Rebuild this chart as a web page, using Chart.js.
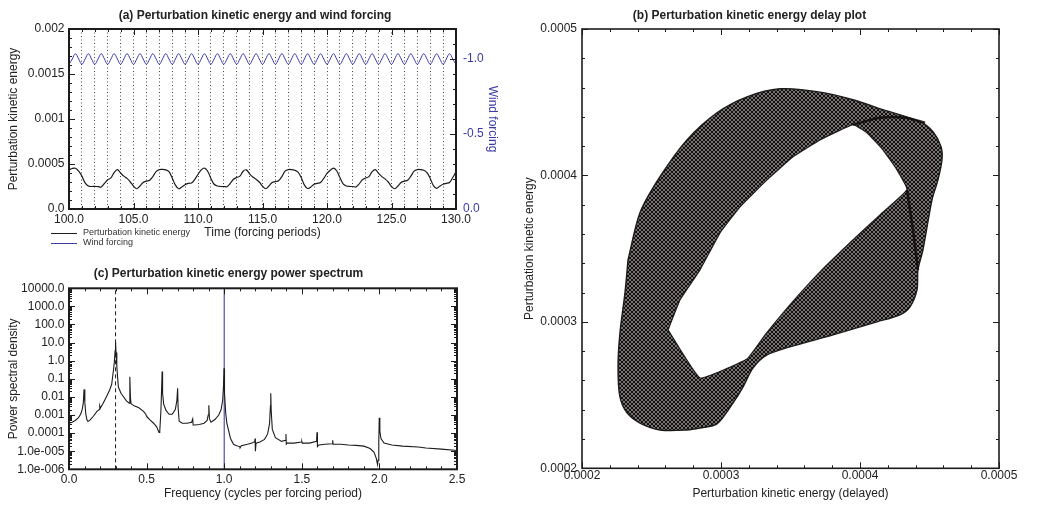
<!DOCTYPE html>
<html>
<head>
<meta charset="utf-8">
<script src="https://cdn.jsdelivr.net/npm/chart.js@4.4.1/dist/chart.umd.min.js"></script>
<style>
  html, body { margin: 0; padding: 0; background: #fff; }
  body { width: 1052px; height: 506px; position: relative; overflow: hidden; }
  canvas { position: absolute; }
  #energyChart { left: 0; top: 0; }
  #delayChart { left: 500px; top: 0; }
  #spectrumChart { left: 0; top: 252px; }
</style>
</head>
<body>
<canvas id="energyChart" width="510" height="252"></canvas>
<canvas id="delayChart" width="552" height="506"></canvas>
<canvas id="spectrumChart" width="470" height="254"></canvas>
<script>
// ---- (a) time series, sampled every quarter forcing period from t = 100
const timeStart = 100;
const timeStep = 0.25;
const pkeValues = [
  4.35e-4, 4.50e-4, 4.52e-4, 4.20e-4, 3.65e-4, 2.90e-4, 2.55e-4, 2.50e-4,
  2.52e-4, 2.48e-4, 2.45e-4, 2.85e-4, 3.25e-4, 3.45e-4, 4.05e-4, 4.38e-4,
  4.00e-4, 3.65e-4, 3.40e-4, 3.00e-4, 2.55e-4, 2.25e-4, 2.55e-4, 2.95e-4,
  3.10e-4, 3.20e-4, 3.60e-4, 4.15e-4, 4.38e-4, 4.40e-4, 4.35e-4, 4.15e-4,
  3.45e-4, 2.65e-4, 2.25e-4, 2.45e-4, 2.70e-4, 2.85e-4, 2.90e-4, 3.30e-4,
  3.85e-4, 4.35e-4, 4.55e-4, 4.20e-4, 3.40e-4, 2.75e-4, 2.55e-4, 2.50e-4,
  2.50e-4, 2.48e-4, 2.85e-4, 3.30e-4, 3.50e-4, 3.65e-4, 4.20e-4, 4.35e-4,
  3.90e-4, 3.55e-4, 3.30e-4, 3.00e-4, 2.55e-4, 2.25e-4, 2.55e-4, 2.95e-4,
  3.05e-4, 3.15e-4, 3.60e-4, 4.20e-4, 4.38e-4, 4.38e-4, 4.30e-4, 4.10e-4,
  3.50e-4, 2.65e-4, 2.28e-4, 2.45e-4, 2.75e-4, 2.85e-4, 2.95e-4, 3.40e-4,
  3.95e-4, 4.30e-4, 4.55e-4, 4.25e-4, 3.50e-4, 2.80e-4, 2.55e-4, 2.50e-4,
  2.50e-4, 2.45e-4, 2.80e-4, 3.25e-4, 3.45e-4, 3.60e-4, 4.15e-4, 4.38e-4,
  3.95e-4, 3.60e-4, 3.35e-4, 3.00e-4, 2.50e-4, 2.25e-4, 2.55e-4, 2.95e-4,
  3.10e-4, 3.20e-4, 3.65e-4, 4.20e-4, 4.38e-4, 4.38e-4, 4.30e-4, 4.05e-4,
  3.40e-4, 2.60e-4, 2.30e-4, 2.55e-4, 2.75e-4, 2.85e-4, 2.95e-4, 3.50e-4,
  4.15e-4
];
const windValues = [
  -0.965, -1.0, -1.035, -1.0, -0.965, -1.0, -1.035, -1.0, -0.965, -1.0, -1.035, -1.0,
  -0.965, -1.0, -1.035, -1.0, -0.965, -1.0, -1.035, -1.0, -0.965, -1.0, -1.035, -1.0,
  -0.965, -1.0, -1.035, -1.0, -0.965, -1.0, -1.035, -1.0, -0.965, -1.0, -1.035, -1.0,
  -0.965, -1.0, -1.035, -1.0, -0.965, -1.0, -1.035, -1.0, -0.965, -1.0, -1.035, -1.0,
  -0.965, -1.0, -1.035, -1.0, -0.965, -1.0, -1.035, -1.0, -0.965, -1.0, -1.035, -1.0,
  -0.965, -1.0, -1.035, -1.0, -0.965, -1.0, -1.035, -1.0, -0.965, -1.0, -1.035, -1.0,
  -0.965, -1.0, -1.035, -1.0, -0.965, -1.0, -1.035, -1.0, -0.965, -1.0, -1.035, -1.0,
  -0.965, -1.0, -1.035, -1.0, -0.965, -1.0, -1.035, -1.0, -0.965, -1.0, -1.035, -1.0,
  -0.965, -1.0, -1.035, -1.0, -0.965, -1.0, -1.035, -1.0, -0.965, -1.0, -1.035, -1.0,
  -0.965, -1.0, -1.035, -1.0, -0.965, -1.0, -1.035, -1.0, -0.965, -1.0, -1.035, -1.0,
  -0.965
];
const timeTicks = [100, 105, 110, 115, 120, 125, 130];
const timeTickLabels = ["100.0", "105.0", "110.0", "115.0", "120.0", "125.0", "130.0"];
const pkeTicks = [0, 0.0005, 0.001, 0.0015, 0.002];
const pkeTickLabels = ["0.0", "0.0005", "0.001", "0.0015", "0.002"];
const windTicks = [0, -0.5, -1.0];
const windTickLabels = ["0.0", "-0.5", "-1.0"];

// ---- (b) delay plot: outer edge and inner hole of the dense trajectory band
const bandOuterX = [
  2.331e-4, 2.417e-4, 2.561e-4, 2.755e-4, 2.971e-4, 3.187e-4, 3.424e-4, 3.691e-4, 3.950e-4, 4.165e-4,
  4.432e-4, 4.525e-4, 4.583e-4, 4.590e-4, 4.561e-4, 4.518e-4, 4.453e-4, 4.417e-4, 4.410e-4, 4.360e-4,
  4.288e-4, 4.122e-4, 3.806e-4, 3.496e-4, 3.331e-4, 3.230e-4, 3.158e-4, 3.086e-4, 2.971e-4, 2.849e-4,
  2.755e-4, 2.561e-4, 2.417e-4, 2.324e-4, 2.273e-4, 2.259e-4, 2.273e-4, 2.309e-4, 2.331e-4
];
const bandOuterY = [
  3.423e-4, 3.745e-4, 3.991e-4, 4.243e-4, 4.428e-4, 4.537e-4, 4.592e-4, 4.572e-4, 4.517e-4, 4.449e-4,
  4.367e-4, 4.298e-4, 4.196e-4, 4.107e-4, 3.970e-4, 3.833e-4, 3.492e-4, 3.355e-4, 3.218e-4, 3.102e-4,
  3.048e-4, 3.000e-4, 2.911e-4, 2.829e-4, 2.774e-4, 2.685e-4, 2.555e-4, 2.446e-4, 2.303e-4, 2.275e-4,
  2.262e-4, 2.262e-4, 2.309e-4, 2.378e-4, 2.487e-4, 2.692e-4, 2.925e-4, 3.198e-4, 3.423e-4
];
const bandInnerX = [
  2.619e-4, 2.705e-4, 2.849e-4, 2.993e-4, 3.137e-4, 3.331e-4, 3.518e-4, 3.712e-4, 3.950e-4, 4.050e-4,
  4.165e-4, 4.266e-4, 4.338e-4, 4.144e-4, 3.928e-4, 3.712e-4, 3.496e-4, 3.317e-4, 3.187e-4, 2.849e-4,
  2.619e-4
];
const bandInnerY = [
  2.945e-4, 3.150e-4, 3.355e-4, 3.608e-4, 3.786e-4, 3.970e-4, 4.127e-4, 4.243e-4, 4.346e-4, 4.291e-4,
  4.175e-4, 4.038e-4, 3.902e-4, 3.731e-4, 3.540e-4, 3.341e-4, 3.116e-4, 2.911e-4, 2.747e-4, 2.617e-4,
  2.945e-4
];
// darker folds where the band overlaps itself (null separates the two folds)
const foldX = [3.950e-4, 4.144e-4, 4.324e-4, 4.468e-4, null, 4.338e-4, 4.381e-4, 4.417e-4];
const foldY = [4.346e-4, 4.394e-4, 4.394e-4, 4.360e-4, null, 3.902e-4, 3.628e-4, 3.355e-4];
const delayTicks = [0.0002, 0.0003, 0.0004, 0.0005];
const delayTickLabels = ["0.0002", "0.0003", "0.0004", "0.0005"];

// ---- (c) power spectrum
const freqs = [
  0.000, 0.020, 0.040, 0.060, 0.075, 0.085, 0.092, 0.097, 0.102, 0.108,
  0.115, 0.122, 0.135, 0.157, 0.180, 0.195, 0.198, 0.202, 0.220, 0.243,
  0.262, 0.275, 0.286, 0.292, 0.297, 0.300, 0.303, 0.308, 0.318, 0.335,
  0.350, 0.370, 0.388, 0.391, 0.393, 0.396, 0.400, 0.420, 0.450, 0.480,
  0.495, 0.498, 0.502, 0.520, 0.545, 0.565, 0.580, 0.585, 0.592, 0.597,
  0.600, 0.603, 0.610, 0.625, 0.645, 0.665, 0.685, 0.695, 0.700, 0.703,
  0.710, 0.730, 0.760, 0.790, 0.797, 0.800, 0.810, 0.840, 0.870, 0.890,
  0.897, 0.901, 0.905, 0.915, 0.940, 0.965, 0.980, 0.990, 0.995, 0.999,
  1.002, 1.010, 1.017, 1.040, 1.060, 1.080, 1.100, 1.102, 1.110, 1.150,
  1.180, 1.197, 1.199, 1.201, 1.205, 1.230, 1.260, 1.280, 1.292, 1.298,
  1.300, 1.303, 1.310, 1.330, 1.370, 1.395, 1.398, 1.400, 1.405, 1.450,
  1.497, 1.500, 1.503, 1.550, 1.595, 1.598, 1.601, 1.610, 1.650, 1.697,
  1.699, 1.702, 1.750, 1.800, 1.850, 1.900, 1.940, 1.965, 1.980, 1.988,
  1.992, 1.996, 1.999, 2.003, 2.010, 2.030, 2.080, 2.150, 2.250, 2.300,
  2.400, 2.500
];
const psd = [
  3.5e-4, 4.0e-4, 5.0e-4, 7.0e-4, 1.1e-3, 2.0e-3, 4.5e-3, 2.6e-2, 5.0e-3, 1.2e-3,
  5.6e-4, 4.4e-4, 5.2e-4, 8.5e-4, 1.6e-3, 2.0e-3, 3.2e-3, 2.4e-3, 4.5e-3, 1.1e-2,
  2.4e-2, 5.0e-2, 2.8e-1, 8.0e-1, 3.5, 10.5, 2.8, 5.0e-1, 3.5e-2, 1.6e-2,
  1.05e-2, 6.0e-3, 4.5e-3, 8.0e-3, 1.3e-1, 9.0e-3, 4.2e-3, 3.2e-3, 2.5e-3, 1.6e-3,
  1.1e-3, 9.0e-4, 8.0e-4, 5.6e-4, 3.5e-4, 2.2e-4, 1.1e-4, 1.3e-4, 1.6e-3, 3.2e-2,
  2.5e-1, 1.6e-2, 4.0e-3, 1.8e-3, 1.1e-3, 1.1e-3, 2.0e-3, 6.3e-3, 3.0e-2, 2.5e-3,
  4.5e-4, 3.5e-4, 3.5e-4, 4.0e-4, 6.0e-4, 2.8e-4, 2.8e-4, 3.0e-4, 3.5e-4, 5.0e-4,
  1.0e-3, 3.5e-3, 6.3e-4, 4.0e-4, 5.6e-4, 1.0e-3, 2.0e-3, 6.3e-3, 3.2e-2, 3.8e-1,
  1.6e-2, 1.2e-3, 3.6e-4, 5.2e-5, 2.4e-5, 2.0e-5, 1.8e-5, 1.5e-5, 2.0e-5, 2.4e-5,
  2.8e-5, 3.5e-5, 5.0e-5, 1.0e-5, 2.8e-5, 3.2e-5, 4.5e-5, 9.0e-5, 3.2e-4, 3.2e-3,
  1.6e-2, 1.6e-3, 1.6e-4, 5.6e-5, 3.5e-5, 4.0e-5, 9.0e-5, 2.5e-5, 2.8e-5, 2.8e-5,
  3.2e-5, 3.5e-5, 2.8e-5, 2.8e-5, 3.5e-5, 1.1e-4, 1.8e-5, 2.2e-5, 2.4e-5, 2.6e-5,
  4.0e-5, 2.4e-5, 2.4e-5, 2.2e-5, 2.1e-5, 1.9e-5, 1.4e-5, 9.0e-6, 4.0e-6, 1.8e-6,
  3.2e-6, 3.2e-5, 7.0e-4, 1.3e-4, 5.0e-5, 2.8e-5, 2.2e-5, 1.9e-5, 1.7e-5, 1.5e-5,
  1.3e-5, 1.1e-5
];
const psdTicks = [1e-6, 1e-5, 1e-4, 1e-3, 1e-2, 1e-1, 1, 10, 100, 1000, 10000];
const psdTickLabels = ["1.0e-006", "1.0e-005", "0.0001", "0.001", "0.01", "0.1", "1.0", "10.0", "100.0", "1000.0", "10000.0"];
const freqTicks = [0, 0.5, 1.0, 1.5, 2.0, 2.5];
const freqTickLabels = ["0.0", "0.5", "1.0", "1.5", "2.0", "2.5"];
const dominantFreq = 0.3;
const forcingFreq = 1.0;

// ---- styling
Chart.defaults.font.family = "\"Liberation Sans\", Arial, Helvetica, sans-serif";
Chart.defaults.font.size = 12;
Chart.defaults.color = "#222";

const ink = "#1c1c1c";
const windBlue = "#3a3aa6";

function steps(from, to, step) {
  const out = [];
  for (let v = from; v <= to + step / 1000; v += step) out.push(+v.toFixed(8));
  return out;
}

// inward tick marks on the frame, plus the box itself
const frameTicks = {
  id: "frameTicks",
  afterDatasetsDraw(chart, args, opts) {
    const { ctx, chartArea: a } = chart;
    ctx.save();
    ctx.strokeStyle = ink;
    ctx.lineWidth = 1;
    for (const m of opts.marks || []) {
      const sc = chart.scales[m.scale];
      for (const v of m.values) {
        const p = Math.round(sc.getPixelForValue(v)) + 0.5;
        ctx.beginPath();
        for (const side of m.sides) {
          if (side === "bottom") { ctx.moveTo(p, a.bottom); ctx.lineTo(p, a.bottom - m.len); }
          if (side === "top") { ctx.moveTo(p, a.top); ctx.lineTo(p, a.top + m.len); }
          if (side === "left") { ctx.moveTo(a.left, p); ctx.lineTo(a.left + m.len, p); }
          if (side === "right") { ctx.moveTo(a.right, p); ctx.lineTo(a.right - m.len, p); }
        }
        ctx.stroke();
      }
    }
    ctx.lineWidth = opts.width || 1.5;
    ctx.strokeRect(a.left, a.top, a.right - a.left, a.bottom - a.top);
    ctx.restore();
  }
};

// small legend under panel (a)
const cornerLegend = {
  id: "cornerLegend",
  afterDraw(chart, args, opts) {
    const { ctx } = chart;
    ctx.save();
    ctx.font = "9px \"Liberation Sans\", Arial, sans-serif";
    ctx.textBaseline = "middle";
    chart.data.datasets.forEach((ds, i) => {
      const y = opts.y + i * opts.gap;
      ctx.strokeStyle = ds.borderColor;
      ctx.lineWidth = 1;
      ctx.beginPath();
      ctx.moveTo(opts.x, y + 0.5);
      ctx.lineTo(opts.x + 26, y + 0.5);
      ctx.stroke();
      ctx.fillStyle = "#333";
      ctx.fillText(ds.label, opts.x + 32, y);
    });
    ctx.restore();
  }
};

// fine crossing-line texture standing in for the dense trajectory mesh
function meshPattern() {
  const c = document.createElement("canvas");
  c.width = 4;
  c.height = 4;
  const g = c.getContext("2d");
  g.fillStyle = "#767272";
  g.fillRect(0, 0, 4, 4);
  g.strokeStyle = "#141010";
  g.lineWidth = 1;
  g.beginPath();
  g.moveTo(0, 0); g.lineTo(4, 4);
  g.moveTo(4, 0); g.lineTo(0, 4);
  g.stroke();
  return g.createPattern(c, "repeat");
}

const noGrid = { display: false, drawTicks: false };
const noBorder = { display: false };

// ---- (a)
const times = pkeValues.map((_, i) => timeStart + i * timeStep);

new Chart(document.getElementById("energyChart"), {
  type: "line",
  data: {
    datasets: [{
      label: "Perturbation kinetic energy",
      data: times.map((t, i) => ({ x: t, y: pkeValues[i] })),
      borderColor: ink,
      borderWidth: 1.2,
      pointRadius: 0,
      tension: 0.35,
      yAxisID: "y"
    }, {
      label: "Wind forcing",
      data: times.map((t, i) => ({ x: t, y: windValues[i] })),
      borderColor: windBlue,
      borderWidth: 1,
      pointRadius: 0,
      tension: 0.4,
      yAxisID: "y2"
    }]
  },
  options: {
    responsive: false,
    animation: false,
    events: [],
    layout: { padding: 0 },
    plugins: {
      legend: { display: false },
      tooltip: { enabled: false },
      title: {
        display: true,
        text: "(a) Perturbation kinetic energy and wind forcing",
        color: "#222",
        font: { size: 12, weight: "bold" },
        padding: { top: 8, bottom: 6.6 }
      },
      frameTicks: {
        width: 2,
        marks: [
          { scale: "x", values: timeTicks, len: 6, sides: ["bottom", "top"] },
          { scale: "x", values: steps(100, 130, 1), len: 3, sides: ["bottom", "top"] },
          { scale: "y", values: pkeTicks, len: 6, sides: ["left"] },
          { scale: "y", values: steps(0, 0.002, 0.0001), len: 3, sides: ["left"] },
          { scale: "y2", values: windTicks, len: 6, sides: ["right"] },
          { scale: "y2", values: steps(-1.2, 0, 0.1), len: 3, sides: ["right"] }
        ]
      },
      cornerLegend: { x: 51, y: 233, gap: 10 }
    },
    scales: {
      x: {
        type: "linear",
        min: 100,
        max: 130,
        afterBuildTicks: s => { s.ticks = steps(100, 130, 1).map(value => ({ value })); },
        ticks: {
          autoSkip: false, maxRotation: 0, minRotation: 0, padding: 3.5,
          callback: v => { const i = timeTicks.indexOf(v); return i < 0 ? "" : timeTickLabels[i]; }
        },
        grid: { color: "#444", lineWidth: 1, drawTicks: false },
        border: { display: false, dash: [1, 2.5] },
        title: { display: true, text: "Time (forcing periods)", padding: { top: 0, bottom: 12 } },
        afterFit: s => { s.height = 43; }
      },
      y: {
        min: 0,
        max: 0.002,
        afterBuildTicks: s => { s.ticks = pkeTicks.map(value => ({ value })); },
        ticks: { autoSkip: false, padding: 4.5, callback: (v, i) => pkeTickLabels[i] },
        grid: noGrid,
        border: noBorder,
        title: { display: true, text: "Perturbation kinetic energy", padding: { top: 6, bottom: 0 } },
        afterFit: s => { s.width = 69; }
      },
      y2: {
        position: "right",
        min: -1.2,
        max: 0,
        reverse: true,
        afterBuildTicks: s => { s.ticks = windTicks.map(value => ({ value })); },
        ticks: { autoSkip: false, padding: 7, color: windBlue, callback: (v, i) => windTickLabels[i] },
        grid: noGrid,
        border: noBorder,
        title: { display: true, text: "Wind forcing", color: windBlue, padding: { top: 10, bottom: 0 } },
        afterFit: s => { s.width = 54; }
      }
    }
  },
  plugins: [frameTicks, cornerLegend]
});

// ---- (b)
new Chart(document.getElementById("delayChart"), {
  type: "scatter",
  data: {
    datasets: [{
      label: "folds",
      data: foldX.map((x, i) => ({ x: x === null ? NaN : x, y: foldY[i] === null ? NaN : foldY[i] })),
      showLine: true,
      spanGaps: false,
      borderColor: "rgba(16, 12, 12, 0.85)",
      borderWidth: 2.5,
      pointRadius: 0,
      tension: 0.3
    }, {
      label: "hole",
      data: bandInnerX.map((x, i) => ({ x, y: bandInnerY[i] })),
      showLine: true,
      fill: "shape",
      backgroundColor: "#ffffff",
      borderColor: ink,
      borderWidth: 1.2,
      pointRadius: 0,
      tension: 0.1
    }, {
      label: "band",
      data: bandOuterX.map((x, i) => ({ x, y: bandOuterY[i] })),
      showLine: true,
      fill: "shape",
      backgroundColor: meshPattern(),
      borderColor: ink,
      borderWidth: 1.4,
      pointRadius: 0,
      tension: 0.3
    }]
  },
  options: {
    responsive: false,
    animation: false,
    events: [],
    layout: { padding: { left: 0, right: 53, top: 0, bottom: 0 } },
    plugins: {
      legend: { display: false },
      tooltip: { enabled: false },
      title: {
        display: true,
        text: "(b) Perturbation kinetic energy delay plot",
        color: "#222",
        font: { size: 12, weight: "bold" },
        padding: { top: 8, bottom: 6.6 }
      },
      frameTicks: {
        width: 1.6,
        marks: [
          { scale: "x", values: delayTicks, len: 6, sides: ["bottom", "top"] },
          { scale: "x", values: steps(0.0002, 0.0005, 0.00002), len: 3, sides: ["bottom", "top"] },
          { scale: "y", values: delayTicks, len: 6, sides: ["left", "right"] },
          { scale: "y", values: steps(0.0002, 0.0005, 0.00002), len: 3, sides: ["left", "right"] }
        ]
      }
    },
    scales: {
      x: {
        type: "linear",
        min: 0.0002,
        max: 0.0005,
        afterBuildTicks: s => { s.ticks = delayTicks.map(value => ({ value })); },
        ticks: { autoSkip: false, maxRotation: 0, padding: 0.5, callback: (v, i) => delayTickLabels[i] },
        grid: noGrid,
        border: noBorder,
        title: { display: true, text: "Perturbation kinetic energy (delayed)", padding: { top: 0, bottom: 5.5 } },
        afterFit: s => { s.height = 37.7; }
      },
      y: {
        type: "linear",
        min: 0.0002,
        max: 0.0005,
        afterBuildTicks: s => { s.ticks = delayTicks.map(value => ({ value })); },
        ticks: { autoSkip: false, padding: 5, callback: (v, i) => delayTickLabels[i] },
        grid: noGrid,
        border: noBorder,
        title: { display: true, text: "Perturbation kinetic energy", padding: { top: 22, bottom: 0 } },
        afterFit: s => { s.width = 82; }
      }
    }
  },
  plugins: [frameTicks]
});

// ---- (c)
const psdMin = psdTicks[0];
const psdMax = psdTicks[psdTicks.length - 1];
const psdMinor = [];
psdTicks.slice(0, -1).forEach(d => { for (let k = 2; k <= 9; k++) psdMinor.push(d * k); });

new Chart(document.getElementById("spectrumChart"), {
  type: "scatter",
  data: {
    datasets: [{
      label: "spectrum",
      data: freqs.map((f, i) => ({ x: f, y: psd[i] })),
      showLine: true,
      borderColor: ink,
      borderWidth: 1.1,
      pointRadius: 0,
      tension: 0
    }, {
      label: "dominant",
      data: [{ x: dominantFreq, y: psdMin }, { x: dominantFreq, y: psdMax }],
      showLine: true,
      borderColor: ink,
      borderWidth: 1,
      borderDash: [4, 3],
      pointRadius: 0
    }, {
      label: "forcing",
      data: [{ x: forcingFreq, y: psdMin }, { x: forcingFreq, y: psdMax }],
      showLine: true,
      borderColor: "#2b2b9c",
      borderWidth: 1,
      pointRadius: 0
    }]
  },
  options: {
    responsive: false,
    animation: false,
    events: [],
    layout: { padding: { left: 0, right: 13, top: 0, bottom: 0 } },
    plugins: {
      legend: { display: false },
      tooltip: { enabled: false },
      title: {
        display: true,
        text: "(c) Perturbation kinetic energy power spectrum",
        color: "#222",
        font: { size: 12, weight: "bold" },
        padding: { top: 14.1, bottom: 7.8 }
      },
      frameTicks: {
        width: 2,
        marks: [
          { scale: "x", values: freqTicks, len: 6, sides: ["bottom", "top"] },
          { scale: "x", values: steps(0, 2.5, 0.1), len: 3, sides: ["bottom", "top"] },
          { scale: "y", values: psdTicks, len: 6, sides: ["left", "right"] },
          { scale: "y", values: psdMinor, len: 3, sides: ["left", "right"] }
        ]
      }
    },
    scales: {
      x: {
        type: "linear",
        min: 0,
        max: 2.5,
        afterBuildTicks: s => { s.ticks = freqTicks.map(value => ({ value })); },
        ticks: { autoSkip: false, maxRotation: 0, padding: 3.5, callback: (v, i) => freqTickLabels[i] },
        grid: noGrid,
        border: noBorder,
        title: { display: true, text: "Frequency (cycles per forcing period)", padding: { top: 0, bottom: 5.5 } },
        afterFit: s => { s.height = 36.7; }
      },
      y: {
        type: "logarithmic",
        min: psdMin,
        max: psdMax,
        afterBuildTicks: s => { s.ticks = psdTicks.map(value => ({ value })); },
        ticks: { autoSkip: false, padding: 4.5, callback: (v, i) => psdTickLabels[i] },
        grid: noGrid,
        border: noBorder,
        title: { display: true, text: "Power spectral density", padding: { top: 6, bottom: 0 } },
        afterFit: s => { s.width = 69; }
      }
    }
  },
  plugins: [frameTicks]
});
</script>
</body>
</html>
